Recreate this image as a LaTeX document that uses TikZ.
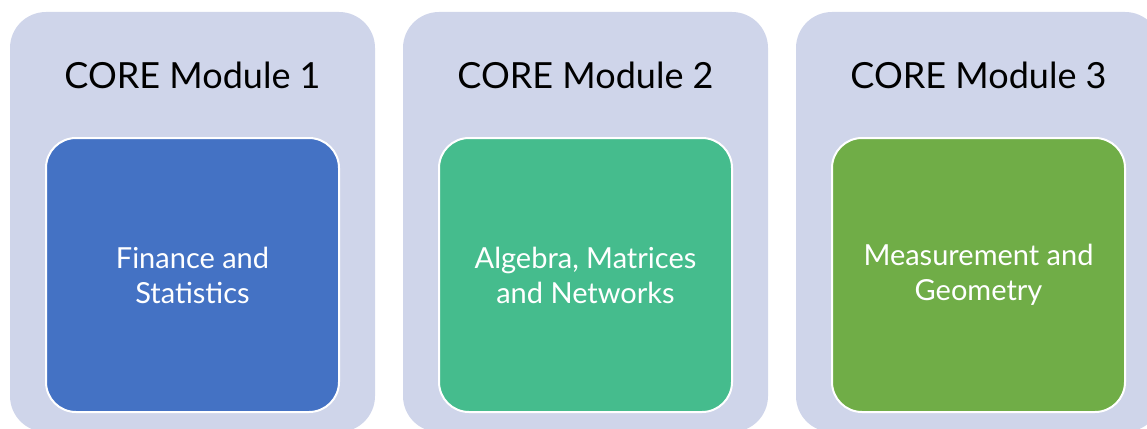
\documentclass[tikz,border=0pt]{standalone}
\usepackage{fontspec}
\setmainfont{Lato}
\usetikzlibrary{positioning}

\definecolor{lavender}{HTML}{CFD5EA}
\definecolor{modblue}{HTML}{4472C4}
\definecolor{modteal}{HTML}{45BC8D}
\definecolor{modgreen}{HTML}{70AD47}

\tikzset{
  panel/.style={fill=lavender, rounded corners=36pt, minimum width=365pt, minimum height=420pt, inner sep=0pt},
  title/.style={font=\fontsize{36}{44}\selectfont, text=black},
  topic/.style={draw=white, line width=2pt, rounded corners=30pt, minimum width=293pt, minimum height=274pt,
    text=white, align=center, font=\fontsize{29}{35}\selectfont},
}

\begin{document}
\begin{tikzpicture}[x=1pt, y=-1pt]
\useasboundingbox (0,0) rectangle (1147,428);

\node[panel] (p1) at (192.5,222) {};
\node[panel] (p2) at (585.5,222) {};
\node[panel] (p3) at (978.5,222) {};

\node[title] (t1) at (192.5,75) {CORE Module 1};
\node[title] (t2) at (585.5,75) {CORE Module 2};
\node[title] (t3) at (978.5,75) {CORE Module 3};

\node[topic, fill=modblue] (m1) at (192.5,275) {Finance and\\Statistics};
\node[topic, fill=modteal] (m2) at (585.5,275) {Algebra, Matrices\\and Networks};
\node[topic, fill=modgreen] (m3) at (978.5,275) {Measurement and\\Geometry};
\end{tikzpicture}
\end{document}
